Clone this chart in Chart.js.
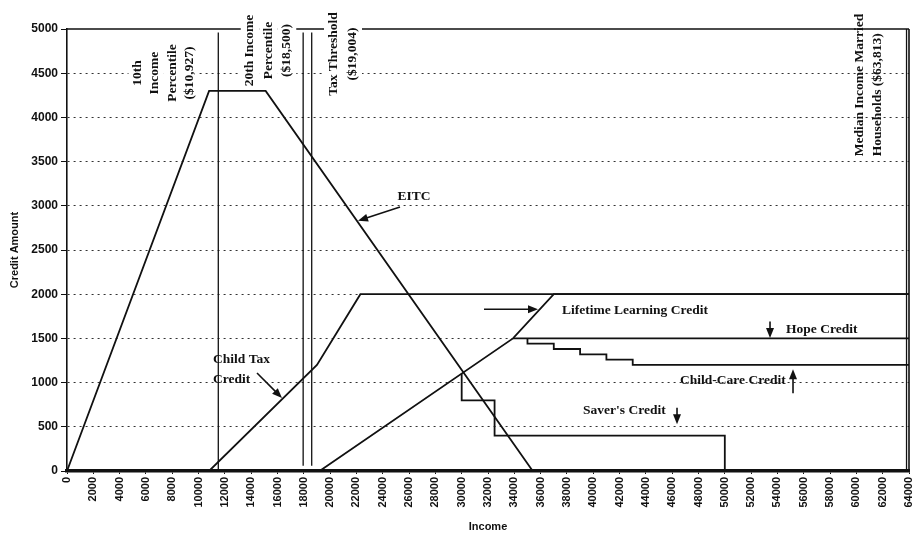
<!DOCTYPE html>
<html>
<head>
<meta charset="utf-8">
<script src="https://cdn.jsdelivr.net/npm/chart.js@4.4.1/dist/chart.umd.min.js"></script>
<style>
  html, body { margin: 0; padding: 0; background: #fff; }
  canvas { display: block; }
</style>
</head>
<body>
<canvas id="chart" width="913" height="538"></canvas>
<script>
// income break points (x) and credit amounts (y)
const EITC_X   = [0, 10800, 15100, 35400, 64000];
const EITC_Y   = [0, 4300, 4300, 0, 0];
const CTC_X    = [0, 10800, 19000, 22300, 64000];
const CTC_Y    = [0, 0, 1200, 2000, 2000];
const LLC_X    = [0, 19200, 33900, 37000, 64000];
const LLC_Y    = [0, 0, 1500, 2000, 2000];
const HOPE_X   = [33900, 64000];
const HOPE_Y   = [1500, 1500];
const CARE_X   = [35000, 35000, 37000, 37000, 39000, 39000, 41000, 41000, 43000, 43000, 64000];
const CARE_Y   = [1500, 1440, 1440, 1380, 1380, 1320, 1320, 1260, 1260, 1200, 1200];
const SAVER_X  = [30000, 30000, 32500, 32500, 50000, 50000];
const SAVER_Y  = [1100, 800, 800, 400, 400, 0];

// reference incomes (vertical lines)
const MARK_X      = [11500, 17950, 18600, 63813];
const MARK_BOTTOM = [0, 60, 60, 0];
const MARK_TOP    = [4960, 4960, 4960, 5000];

const X_MIN = 0, X_MAX = 64000, X_STEP = 2000;
const Y_MIN = 0, Y_MAX = 5000, Y_STEP = 500;

const pts = (xs, ys) => xs.map((x, i) => ({ x, y: ys[i] }));

const series = [
  pts(EITC_X, EITC_Y),
  pts(CTC_X, CTC_Y),
  pts(LLC_X, LLC_Y),
  pts(HOPE_X, HOPE_Y),
  pts(CARE_X, CARE_Y),
  pts(SAVER_X, SAVER_Y)
];
const markers = MARK_X.map((x, i) => [{ x, y: MARK_BOTTOM[i] }, { x, y: MARK_TOP[i] }]);

const datasets = [
  ...series.map(d => ({ data: d, borderWidth: 1.8 })),
  ...markers.map(d => ({ data: d, borderWidth: 1.3 }))
].map(d => Object.assign(d, {
  showLine: true, pointRadius: 0, borderColor: '#111', fill: false, tension: 0
}));

// text labels, anchored in data units
const SERIF = '"Liberation Serif", "Times New Roman", serif';
const NOTES = [
  { lines: ['10th', 'Income', 'Percentile', '($10,927)'], x: 7335, y: 4502, rot: true, gap: 17.5, align: 'center', bg: true },
  { lines: ['20th Income', 'Percentile', '($18,500)'], x: 15316, y: 4757, rot: true, gap: 18.5, align: 'center', bg: true },
  { lines: ['Tax Threshold', '($19,004)'], x: 20979, y: 4717, rot: true, gap: 19, align: 'center', bg: true },
  { lines: ['Median Income Married', 'Households ($63,813)'], x: 60885, y: 3560, rot: true, gap: 18, align: 'left', bg: false },
  { lines: ['EITC'], x: 26376, y: 3100, align: 'center' },
  { lines: ['Child Tax', 'Credit'], x: 11098, y: 1256, gap: 20, align: 'left' },
  { lines: ['Lifetime Learning Credit'], x: 37625, y: 1810, align: 'left' },
  { lines: ['Hope Credit'], x: 54652, y: 1606, align: 'left' },
  { lines: ['Child-Care Credit'], x: 46595, y: 1029, align: 'left' },
  { lines: ["Saver's Credit"], x: 39222, y: 679, align: 'left' }
];
const ARROWS = [
  { from: [25312, 2986], to: [22119, 2830] },
  { from: [14442, 1109], to: [16342, 825] },
  { from: [31697, 1830], to: [35800, 1830] },
  { from: [53436, 1690], to: [53436, 1505] },
  { from: [55184, 880], to: [55184, 1150] },
  { from: [46367, 715], to: [46367, 530] }
];

const overlay = {
  id: 'overlay',
  afterDraw(chart) {
    const { ctx, chartArea: a, scales: { x, y } } = chart;
    ctx.save();
    // solid top and right frame
    ctx.strokeStyle = '#111';
    ctx.lineWidth = 1.6;
    ctx.beginPath();
    ctx.moveTo(a.left, a.top); ctx.lineTo(a.right, a.top);
    ctx.moveTo(a.right, a.top); ctx.lineTo(a.right, a.bottom);
    ctx.stroke();

    ctx.fillStyle = '#111';
    ctx.font = 'bold 13.5px ' + SERIF;
    ctx.textBaseline = 'middle';
    NOTES.forEach(n => {
      const px = x.getPixelForValue(n.x), py = y.getPixelForValue(n.y);
      const gap = n.gap || 18;
      ctx.save();
      ctx.translate(px, py);
      if (n.rot) ctx.rotate(-Math.PI / 2);
      ctx.textAlign = n.align;
      n.lines.forEach((t, i) => {
        const off = n.rot ? (i - (n.lines.length - 1) / 2) * gap : i * gap;
        if (n.bg) {
          const w = ctx.measureText(t).width;
          const x0 = n.align === 'center' ? -w / 2 : 0;
          ctx.fillStyle = '#fff';
          ctx.fillRect(x0 - 3, off - gap / 2, w + 6, gap);
          ctx.fillStyle = '#111';
        }
        ctx.fillText(t, 0, off);
      });
      ctx.restore();
    });

    ARROWS.forEach(r => {
      const x1 = x.getPixelForValue(r.from[0]), y1 = y.getPixelForValue(r.from[1]);
      const x2 = x.getPixelForValue(r.to[0]), y2 = y.getPixelForValue(r.to[1]);
      const ang = Math.atan2(y2 - y1, x2 - x1);
      const L = 10, W = 4;
      ctx.lineWidth = 1.6;
      ctx.beginPath();
      ctx.moveTo(x1, y1);
      ctx.lineTo(x2 - Math.cos(ang) * L * 0.8, y2 - Math.sin(ang) * L * 0.8);
      ctx.stroke();
      ctx.beginPath();
      ctx.moveTo(x2, y2);
      ctx.lineTo(x2 - L * Math.cos(ang) + W * Math.sin(ang), y2 - L * Math.sin(ang) - W * Math.cos(ang));
      ctx.lineTo(x2 - L * Math.cos(ang) - W * Math.sin(ang), y2 - L * Math.sin(ang) + W * Math.cos(ang));
      ctx.closePath();
      ctx.fill();
    });
    ctx.restore();
  }
};

const SANS = '"Liberation Sans", Arial, sans-serif';

new Chart(document.getElementById('chart'), {
  type: 'scatter',
  data: { datasets },
  plugins: [overlay],
  options: {
    responsive: false,
    animation: false,
    layout: { padding: { top: 29, right: 4, left: 0, bottom: 0 } },
    plugins: { legend: { display: false }, tooltip: { enabled: false } },
    scales: {
      x: {
        type: 'linear', min: X_MIN, max: X_MAX,
        afterFit: s => { s.height = 67; s.paddingLeft = 0; s.paddingRight = 0; },
        ticks: {
          stepSize: X_STEP, autoSkip: false, minRotation: 90, maxRotation: 90,
          callback: v => String(v),
          padding: 3, color: '#111', font: { family: SANS, size: 11, weight: 'bold' }
        },
        grid: { display: true, drawOnChartArea: false, tickLength: 3, tickColor: '#111' },
        border: { color: '#111', width: 3.5 },
        title: { display: true, text: 'Income', color: '#111', padding: { top: 0, bottom: 4 },
                 font: { family: SANS, size: 11, weight: 'bold' } }
      },
      y: {
        min: Y_MIN, max: Y_MAX,
        afterFit: s => { s.width = 67; },
        ticks: {
          stepSize: Y_STEP, padding: 3, color: '#111',
          callback: v => String(v),
          font: { family: SANS, size: 12, weight: 'bold' }
        },
        grid: {
          color: c => (c.tick && (c.tick.value === Y_MAX || c.tick.value === Y_MIN)) ? 'rgba(0,0,0,0)' : '#333',
          tickColor: '#111', tickLength: 6, lineWidth: 1
        },
        border: { color: '#111', width: 1.6, dash: [2, 4] },
        title: { display: true, text: 'Credit Amount', color: '#111', padding: { top: 8, bottom: 0 },
                 font: { family: SANS, size: 11, weight: 'bold' } }
      }
    }
  }
});
</script>
</body>
</html>
